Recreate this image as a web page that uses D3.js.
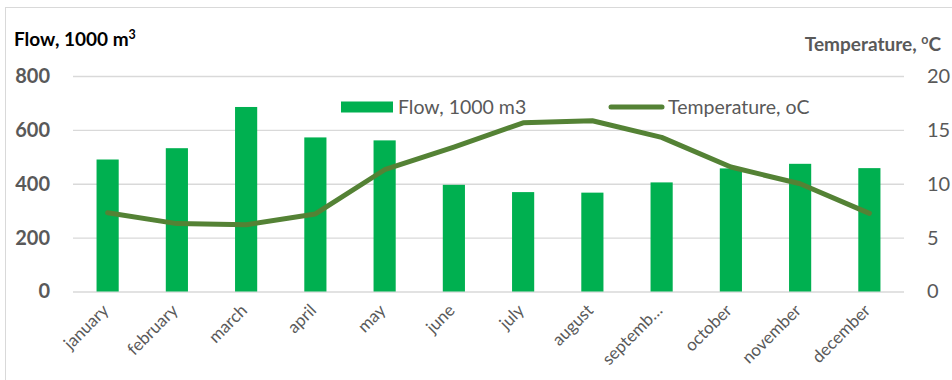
<!DOCTYPE html>
<html>
<head>
<meta charset="utf-8">
<script src="https://cdn.jsdelivr.net/npm/d3@7"></script>
<style>
  html, body { margin: 0; padding: 0; background: #fff; }
  svg { display: block; font-family: Lato, "Open Sans", sans-serif; }
</style>
</head>
<body>
<svg id="chart" width="952" height="380"></svg>
<script>
// Monthly flow (1000 m3) and mean temperature (oC)
const months = ["january", "february", "march", "april", "may", "june",
  "july", "august", "septemb\u2026", "october", "november", "december"];
const flow = [490, 532, 685, 572, 561, 396, 369, 367, 405, 457, 474, 458];
const temperature = [7.3, 6.3, 6.2, 7.2, 11.3, 13.4, 15.65, 15.85, 14.3, 11.55, 10.0, 7.25];
const flowTicks = [0, 200, 400, 600, 800];
const tempTicks = [0, 5, 10, 15, 20];

const barColor = "#00B050";
const lineColor = "#548235";
const textColor = "#595959";

const svg = d3.select("#chart");

// outer chart frame
svg.append("rect")
  .attr("x", 5.5).attr("y", 7.5)
  .attr("width", 960).attr("height", 400)
  .attr("fill", "#fff").attr("stroke", "#d9d9d9").attr("stroke-width", 1);

const plot = { left: 73, right: 904, top: 76, bottom: 291.5 };

const x = d3.scaleBand().domain(months).range([plot.left, plot.right]).paddingInner(0.68).paddingOuter(0.34);
const xc = m => x(m) + x.bandwidth() / 2;
const yFlow = d3.scaleLinear().domain([0, 800]).range([plot.bottom, plot.top]);
const yTemp = d3.scaleLinear().domain([0, 20]).range([plot.bottom, plot.top]);

// horizontal gridlines
svg.append("g")
  .attr("transform", `translate(${plot.left},0)`)
  .call(d3.axisLeft(yFlow).tickValues(flowTicks).tickSize(-(plot.right - plot.left)).tickFormat(""))
  .call(g => g.select(".domain").remove())
  .call(g => g.selectAll(".tick line").attr("stroke", "#d9d9d9").attr("stroke-width", 1.3));

// left axis labels
svg.append("g")
  .attr("transform", `translate(${plot.left},0)`)
  .call(d3.axisLeft(yFlow).tickValues(flowTicks).tickSize(0).tickPadding(23))
  .call(g => g.select(".domain").remove())
  .call(g => g.selectAll("text")
    .attr("fill", textColor).attr("font-size", 20).attr("font-weight", "bold")
    .attr("font-family", "Lato, sans-serif"));

// right axis labels
svg.append("g")
  .attr("transform", `translate(${plot.right},0)`)
  .call(d3.axisRight(yTemp).tickValues(tempTicks).tickSize(0).tickPadding(23))
  .call(g => g.select(".domain").remove())
  .call(g => g.selectAll("text")
    .attr("fill", textColor).attr("font-size", 20)
    .attr("font-family", "Lato, sans-serif"));

// bars
svg.append("g").selectAll("rect")
  .data(months)
  .join("rect")
  .attr("x", m => x(m))
  .attr("y", (m, i) => yFlow(flow[i]))
  .attr("width", x.bandwidth())
  .attr("height", (m, i) => plot.bottom - yFlow(flow[i]))
  .attr("fill", barColor);

// temperature line
const line = d3.line()
  .x((d, i) => xc(months[i]))
  .y(d => yTemp(d));
svg.append("path")
  .datum(temperature)
  .attr("d", line)
  .attr("fill", "none")
  .attr("stroke", lineColor)
  .attr("stroke-width", 5)
  .attr("stroke-linejoin", "round")
  .attr("stroke-linecap", "round");

// month labels
svg.append("g").selectAll("text")
  .data(months)
  .join("text")
  .attr("transform", m => `translate(${xc(m) + 2},${plot.bottom + 20}) rotate(-45)`)
  .attr("text-anchor", "end")
  .attr("font-size", 17)
  .attr("fill", textColor)
  .text(m => m);

// axis titles
const t1 = svg.append("text")
  .attr("x", 14).attr("y", 46)
  .attr("font-size", 19).attr("font-weight", "bold").attr("fill", "#000");
t1.append("tspan").text("Flow, 1000 m");
t1.append("tspan").attr("font-size", 12.5).attr("dy", -7).text("3");

const t2 = svg.append("text")
  .attr("x", 941).attr("y", 51)
  .attr("text-anchor", "end")
  .attr("font-size", 19).attr("font-weight", "bold").attr("fill", textColor);
t2.append("tspan").text("Temperature, ");
t2.append("tspan").attr("font-size", 12.5).attr("dy", -7).text("o");
t2.append("tspan").attr("dy", 7).text("C");

// legend
const legend = svg.append("g");
legend.append("rect")
  .attr("x", 341).attr("y", 101.5).attr("width", 52).attr("height", 11)
  .attr("fill", barColor);
legend.append("text")
  .attr("x", 398).attr("y", 113.5)
  .attr("font-size", 19.5).attr("fill", textColor)
  .text("Flow, 1000 m3");
legend.append("line")
  .attr("x1", 611).attr("x2", 662).attr("y1", 107).attr("y2", 107)
  .attr("stroke", lineColor).attr("stroke-width", 5).attr("stroke-linecap", "round");
legend.append("text")
  .attr("x", 668).attr("y", 113.5)
  .attr("font-size", 19.5).attr("fill", textColor)
  .text("Temperature, oC");
</script>
</body>
</html>
